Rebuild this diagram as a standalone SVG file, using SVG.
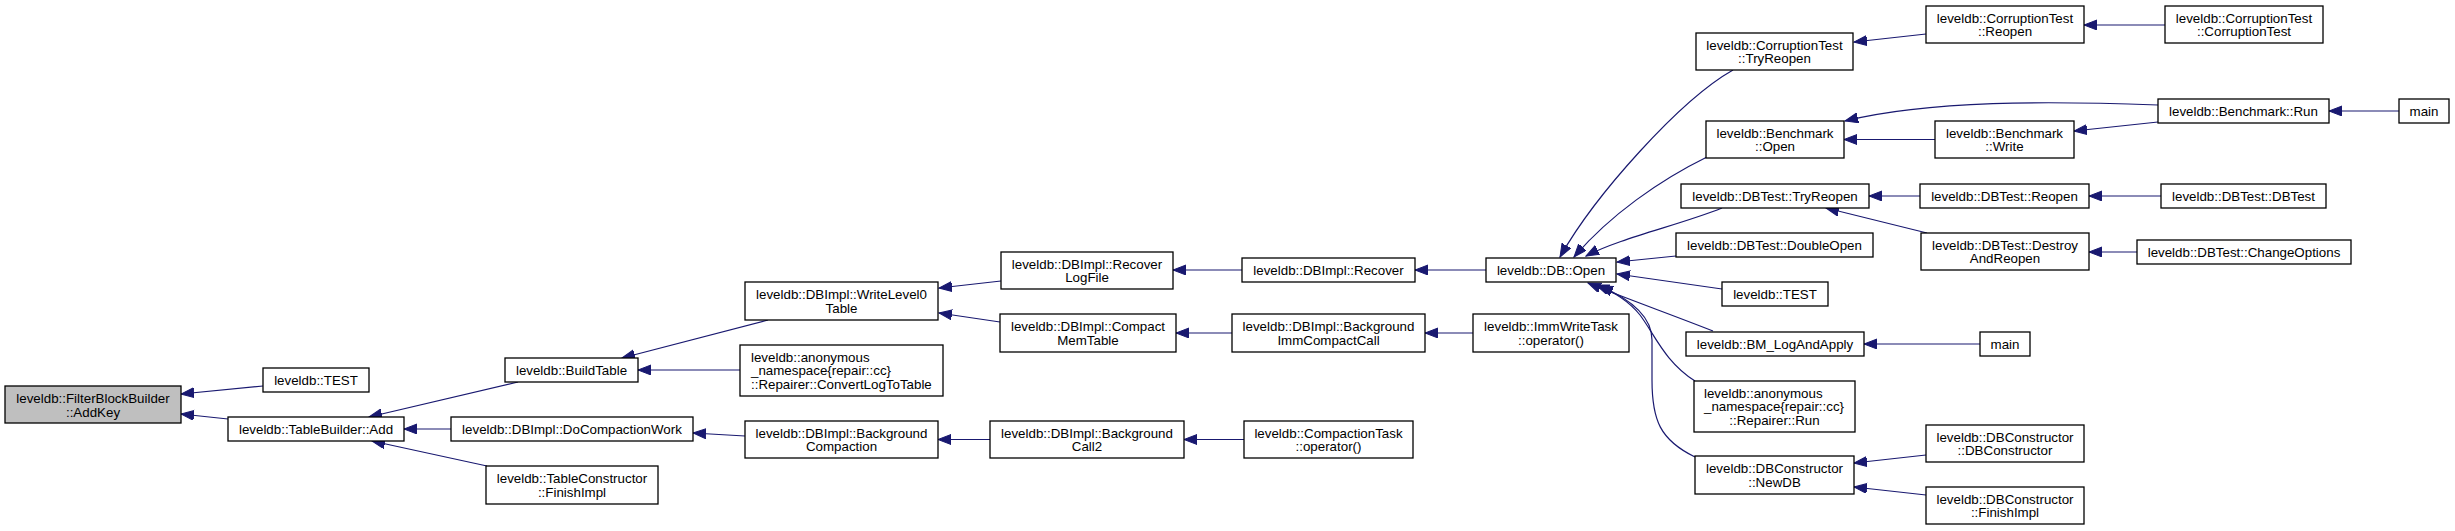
<svg xmlns="http://www.w3.org/2000/svg" width="2455" height="531" viewBox="0 0 2455 531">
<style>
rect.n{fill:#fff;stroke:#000;stroke-width:1.3}
rect.g{fill:#bfbfbf;stroke:#000;stroke-width:1.3}
text{font-family:"Liberation Sans",Arial,Helvetica,sans-serif;font-size:13.33px;fill:#000}
text.c{text-anchor:middle}
#edges path{fill:none;stroke:#191970;stroke-width:1.2;marker-end:url(#ah)}
</style>
<defs>
<marker id="ah" markerUnits="userSpaceOnUse" markerWidth="14" markerHeight="11" refX="13" refY="5" orient="auto">
<path d="M0,0 L13,5 L0,10 z" fill="#191970" stroke="#191970" stroke-width="1"/>
</marker>
</defs>
<rect width="2455" height="531" fill="#fff"/>
<g id="edges">
<path d="M263,386 L181,394"/>
<path d="M228,419 L181,414"/>
<path d="M518,382 L369,417"/>
<path d="M451,429 L404,429"/>
<path d="M487,466 L372,441"/>
<path d="M768,320 L622,358"/>
<path d="M740,370 L638,370"/>
<path d="M745,436 L693,433"/>
<path d="M1001,281 L939,288"/>
<path d="M1000,322 L939,313"/>
<path d="M1242,270 L1173,270"/>
<path d="M1232,333 L1176,333"/>
<path d="M990,439.5 L938,439.5"/>
<path d="M1244,439.5 L1184,439.5"/>
<path d="M1486,270 L1415,270"/>
<path d="M1473,333 L1425,333"/>
<path d="M1733,70 C1680,100 1595,195 1560,257"/>
<path d="M1707,157 C1660,180 1610,215 1574,257"/>
<path d="M1722,208 C1680,225 1620,238 1586,256"/>
<path d="M1676,256 L1617,262"/>
<path d="M1722,289 L1617,274"/>
<path d="M1713,331 C1675,316 1625,298 1588,283"/>
<path d="M1695,381 C1665,362 1655,335 1640,315 C1628,300 1612,291 1596,285"/>
<path d="M1695,457 C1660,440 1652,420 1652,380 L1652,340 C1652,315 1628,298 1600,286"/>
<path d="M1926,34 L1854,42"/>
<path d="M2165,25 L2084,25"/>
<path d="M2158,105 C2050,101 1930,100 1845,121"/>
<path d="M1935,139.5 L1844,139.5"/>
<path d="M2158,122 L2074,131"/>
<path d="M2399,111 L2329,111"/>
<path d="M1920,196 L1869,196"/>
<path d="M2161,196 L2089,196"/>
<path d="M1927,233 L1826,208"/>
<path d="M2137,252 L2089,252"/>
<path d="M1980,344 L1864,344"/>
<path d="M1926,455 L1854,463"/>
<path d="M1926,495 L1854,487"/>
</g>
<g id="n0"><rect class="g" x="5" y="386" width="176" height="37"/><text class="c" x="93" y="403">leveldb::FilterBlockBuilder</text><text class="c" x="93" y="416.5">::AddKey</text></g>
<g id="n1"><rect class="n" x="263" y="368" width="106" height="24"/><text class="c" x="316" y="384.5">leveldb::TEST</text></g>
<g id="n2"><rect class="n" x="228" y="417" width="176" height="24"/><text class="c" x="316" y="433.5">leveldb::TableBuilder::Add</text></g>
<g id="n3"><rect class="n" x="505" y="358" width="133" height="24"/><text class="c" x="571.5" y="374.5">leveldb::BuildTable</text></g>
<g id="n4"><rect class="n" x="451" y="417" width="242" height="24"/><text class="c" x="572" y="433.5">leveldb::DBImpl::DoCompactionWork</text></g>
<g id="n5"><rect class="n" x="486" y="466" width="172" height="38"/><text class="c" x="572" y="483">leveldb::TableConstructor</text><text class="c" x="572" y="496.5">::FinishImpl</text></g>
<g id="n6"><rect class="n" x="745" y="282" width="193" height="38"/><text class="c" x="841.5" y="299">leveldb::DBImpl::WriteLevel0</text><text class="c" x="841.5" y="312.5">Table</text></g>
<g id="n7"><rect class="n" x="740" y="345" width="203" height="51"/><text x="751" y="361.5">leveldb::anonymous</text><text x="751" y="375">_namespace{repair::cc}</text><text x="751" y="388.5">::Repairer::ConvertLogToTable</text></g>
<g id="n8"><rect class="n" x="745" y="421" width="193" height="37"/><text class="c" x="841.5" y="437.5">leveldb::DBImpl::Background</text><text class="c" x="841.5" y="451">Compaction</text></g>
<g id="n9"><rect class="n" x="1001" y="252" width="172" height="37"/><text class="c" x="1087" y="268.5">leveldb::DBImpl::Recover</text><text class="c" x="1087" y="282">LogFile</text></g>
<g id="n10"><rect class="n" x="1000" y="314" width="176" height="38"/><text class="c" x="1088" y="331">leveldb::DBImpl::Compact</text><text class="c" x="1088" y="344.5">MemTable</text></g>
<g id="n11"><rect class="n" x="990" y="421" width="194" height="37"/><text class="c" x="1087" y="437.5">leveldb::DBImpl::Background</text><text class="c" x="1087" y="451">Call2</text></g>
<g id="n12"><rect class="n" x="1242" y="258" width="173" height="24"/><text class="c" x="1328.5" y="274.5">leveldb::DBImpl::Recover</text></g>
<g id="n13"><rect class="n" x="1232" y="314" width="193" height="38"/><text class="c" x="1328.5" y="331">leveldb::DBImpl::Background</text><text class="c" x="1328.5" y="344.5">ImmCompactCall</text></g>
<g id="n14"><rect class="n" x="1244" y="421" width="169" height="37"/><text class="c" x="1328.5" y="437.5">leveldb::CompactionTask</text><text class="c" x="1328.5" y="451">::operator()</text></g>
<g id="n15"><rect class="n" x="1486" y="258" width="130" height="24"/><text class="c" x="1551" y="274.5">leveldb::DB::Open</text></g>
<g id="n16"><rect class="n" x="1473" y="314" width="156" height="38"/><text class="c" x="1551" y="331">leveldb::ImmWriteTask</text><text class="c" x="1551" y="344.5">::operator()</text></g>
<g id="n17"><rect class="n" x="1696" y="33" width="157" height="37"/><text class="c" x="1774.5" y="49.5">leveldb::CorruptionTest</text><text class="c" x="1774.5" y="63">::TryReopen</text></g>
<g id="n18"><rect class="n" x="1706" y="121" width="138" height="37"/><text class="c" x="1775" y="137.5">leveldb::Benchmark</text><text class="c" x="1775" y="151">::Open</text></g>
<g id="n19"><rect class="n" x="1681" y="184" width="188" height="24"/><text class="c" x="1775" y="200.5">leveldb::DBTest::TryReopen</text></g>
<g id="n20"><rect class="n" x="1676" y="233" width="197" height="24"/><text class="c" x="1774.5" y="249.5">leveldb::DBTest::DoubleOpen</text></g>
<g id="n21"><rect class="n" x="1722" y="282" width="106" height="24"/><text class="c" x="1775" y="298.5">leveldb::TEST</text></g>
<g id="n22"><rect class="n" x="1686" y="332" width="178" height="24"/><text class="c" x="1775" y="348.5">leveldb::BM_LogAndApply</text></g>
<g id="n23"><rect class="n" x="1694" y="381" width="161" height="51"/><text x="1704" y="397.5">leveldb::anonymous</text><text x="1704" y="411">_namespace{repair::cc}</text><text class="c" x="1774.5" y="424.5">::Repairer::Run</text></g>
<g id="n24"><rect class="n" x="1695" y="456" width="159" height="38"/><text class="c" x="1774.5" y="473">leveldb::DBConstructor</text><text class="c" x="1774.5" y="486.5">::NewDB</text></g>
<g id="n25"><rect class="n" x="1926" y="6" width="158" height="37"/><text class="c" x="2005" y="22.5">leveldb::CorruptionTest</text><text class="c" x="2005" y="36">::Reopen</text></g>
<g id="n26"><rect class="n" x="1935" y="121" width="139" height="37"/><text class="c" x="2004.5" y="137.5">leveldb::Benchmark</text><text class="c" x="2004.5" y="151">::Write</text></g>
<g id="n27"><rect class="n" x="1920" y="184" width="169" height="24"/><text class="c" x="2004.5" y="200.5">leveldb::DBTest::Reopen</text></g>
<g id="n28"><rect class="n" x="1921" y="233" width="168" height="37"/><text class="c" x="2005" y="249.5">leveldb::DBTest::Destroy</text><text class="c" x="2005" y="263">AndReopen</text></g>
<g id="n29"><rect class="n" x="1980" y="332" width="50" height="24"/><text class="c" x="2005" y="348.5">main</text></g>
<g id="n30"><rect class="n" x="1926" y="425" width="158" height="37"/><text class="c" x="2005" y="441.5">leveldb::DBConstructor</text><text class="c" x="2005" y="455">::DBConstructor</text></g>
<g id="n31"><rect class="n" x="1926" y="487" width="158" height="37"/><text class="c" x="2005" y="503.5">leveldb::DBConstructor</text><text class="c" x="2005" y="517">::FinishImpl</text></g>
<g id="n32"><rect class="n" x="2165" y="6" width="158" height="37"/><text class="c" x="2244" y="22.5">leveldb::CorruptionTest</text><text class="c" x="2244" y="36">::CorruptionTest</text></g>
<g id="n33"><rect class="n" x="2158" y="99" width="171" height="24"/><text class="c" x="2243.5" y="115.5">leveldb::Benchmark::Run</text></g>
<g id="n34"><rect class="n" x="2161" y="184" width="165" height="24"/><text class="c" x="2243.5" y="200.5">leveldb::DBTest::DBTest</text></g>
<g id="n35"><rect class="n" x="2137" y="240" width="214" height="24"/><text class="c" x="2244" y="256.5">leveldb::DBTest::ChangeOptions</text></g>
<g id="n36"><rect class="n" x="2399" y="99" width="50" height="24"/><text class="c" x="2424" y="115.5">main</text></g>
</svg>
